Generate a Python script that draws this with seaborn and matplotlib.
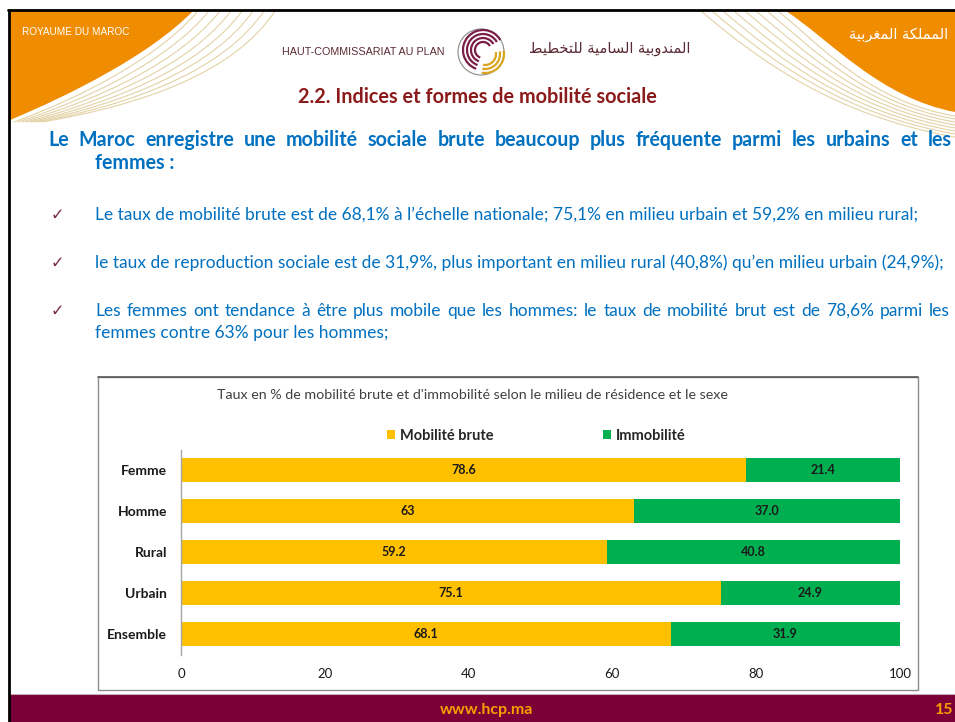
import matplotlib
matplotlib.use("Agg")
import matplotlib.pyplot as plt
import seaborn as sns
import pandas as pd
from matplotlib.patches import Rectangle, PathPatch, Arc, Patch
from matplotlib.path import Path

# ---------------- data ----------------
categories = ["Femme", "Homme", "Rural", "Urbain", "Ensemble"]
mobilite_brute = [78.6, 63, 59.2, 75.1, 68.1]
immobilite = [21.4, 37.0, 40.8, 24.9, 31.9]
mobilite_labels = ["78.6", "63", "59.2", "75.1", "68.1"]
immobilite_labels = ["21.4", "37.0", "40.8", "24.9", "31.9"]
series_names = ["Mobilité brute", "Immobilité"]
x_ticks = [0, 20, 40, 60, 80, 100]

chart_title = "Taux en % de mobilité brute et d'immobilité selon le milieu de résidence et le sexe"
slide_title = "2.2. Indices et formes de mobilité sociale"
heading_1 = "Le Maroc enregistre une mobilité sociale brute beaucoup plus fréquente parmi les urbains et les"
heading_2 = "femmes :"
bullet_1 = "Le taux de mobilité brute est de 68,1% à l’échelle nationale; 75,1% en milieu urbain et 59,2% en milieu rural;"
bullet_2 = "le taux de reproduction sociale est de 31,9%, plus important en milieu rural (40,8%) qu’en milieu urbain (24,9%);"
bullet_3a = "Les femmes ont tendance à être plus mobile que les hommes: le taux de mobilité brut est de 78,6% parmi les"
bullet_3b = "femmes contre 63% pour les hommes;"

# Arabic text, pre-shaped (presentation forms) in visual order
ar_kingdom = "\uFE8D\uFEDF\uFEE4\uFEE4\uFEE0\uFEDC\uFE94 \uFE8D\uFEDF\uFEE4\uFED0\uFEAE\uFE91\uFEF4\uFE94"[::-1]
ar_hcp = ("\uFE8D\uFEDF\uFEE4\uFEE8\uFEAA\uFEED\uFE91\uFEF4\uFE94 "
          "\uFE8D\uFEDF\uFEB4\uFE8E\uFEE3\uFEF4\uFE94 "
          "\uFEDF\uFEE0\uFE98\uFEA8\uFEC4\uFEF4\uFEC2")[::-1]

ORANGE = "#FFC000"
GREEN = "#00B050"
BLUE = "#0070C0"
HEAD_OR = "#F08C00"
MAROON = "#7A0037"

W, H = 955, 722
sns.set_theme(style="white")
plt.rcParams['font.family'] = ['Lato', 'DejaVu Sans']
NARROW = ['Liberation Sans Narrow', 'Lato', 'DejaVu Sans']

fig = plt.figure(figsize=(W / 100, H / 100), dpi=100)
fig.patch.set_facecolor("white")
bg = fig.add_axes([0, 0, 1, 1])
bg.set_xlim(0, W)
bg.set_ylim(H, 0)
bg.axis('off')
renderer = fig.canvas.get_renderer()


def fit(x, y, s, width, ha='left', va='center', size=12, **kw):
    t = bg.text(x, y, s, ha=ha, va=va, fontsize=size, **kw)
    w = t.get_window_extent(renderer=renderer).width
    t.set_fontsize(size * width / w)
    return t


def justify(s, x0, x1, y, size, gap_target=None, **kw):
    words = s.split(" ")
    texts = [bg.text(0, y, w, va='center', ha='left', fontsize=size, **kw) for w in words]
    widths = [t.get_window_extent(renderer=renderer).width for t in texts]
    if gap_target is not None:
        scale = (x1 - x0 - gap_target * (len(words) - 1)) / sum(widths)
        size = size * scale
        for t in texts:
            t.set_fontsize(size)
        widths = [t.get_window_extent(renderer=renderer).width for t in texts]
    gap = (x1 - x0 - sum(widths)) / (len(words) - 1)
    x = x0
    for t, w in zip(texts, widths):
        t.set_x(x)
        x += w + gap
    return size


# ---------------- header decorations ----------------
left_shape = Path([(10, 11), (193, 11), (150, 55), (70, 95), (10, 120), (10, 11)],
                  [Path.MOVETO, Path.LINETO, Path.CURVE4, Path.CURVE4, Path.CURVE4, Path.CLOSEPOLY])
bg.add_patch(PathPatch(left_shape, facecolor=HEAD_OR, edgecolor='none', zorder=1))
for k in range(8):
    p = Path([(198 + k * 11, 11), (158 + k * 11, 58 + k * 2), (80 + k * 9, 98 + k), (14 + k * 4, 122)],
             [Path.MOVETO, Path.CURVE4, Path.CURVE4, Path.CURVE4])
    bg.add_patch(PathPatch(p, facecolor='none', edgecolor='#E4D2A6', lw=0.8, zorder=1))

right_shape = Path([(786, 11), (830, 40), (880, 98), (955, 112), (955, 11), (786, 11)],
                   [Path.MOVETO, Path.CURVE4, Path.CURVE4, Path.CURVE4, Path.LINETO, Path.CLOSEPOLY])
bg.add_patch(PathPatch(right_shape, facecolor=HEAD_OR, edgecolor='none', zorder=1))
for k in range(8):
    p = Path([(778 - k * 11, 11), (820 - k * 9, 45 + k * 2), (870 - k * 5, 102 + k * 2), (955, 116 + k * 3)],
             [Path.MOVETO, Path.CURVE4, Path.CURVE4, Path.CURVE4])
    bg.add_patch(PathPatch(p, facecolor='none', edgecolor='#E4D2A6', lw=0.8, zorder=1))

# frame
bg.plot([8, W], [10, 10], color='black', lw=2, zorder=5)
bg.plot([9, 9], [10, H], color='black', lw=2, zorder=5)

bg.text(22, 32, "ROYAUME DU MAROC", color='white', fontsize=7.2, va='center', family=['Liberation Sans', 'DejaVu Sans'], zorder=3)
bg.text(948, 34, ar_kingdom, color='white', fontsize=10.5, va='center', ha='right', family=['DejaVu Sans'], zorder=3)
fit(282, 52, "HAUT-COMMISSARIAT AU PLAN", 162, color='#5A2A35', family=['Liberation Sans', 'DejaVu Sans'], size=7)
bg.text(690, 49, ar_hcp, color='#5A2A35', fontsize=10.5, va='center', ha='right', family=['DejaVu Sans'])

# logo
cx, cy = 481, 52
bg.add_patch(Arc((cx, cy), 46, 46, theta1=0, theta2=360, color='#8A8A8A', lw=0.8))
for r in [40, 32, 24, 16]:
    bg.add_patch(Arc((cx + 2, cy - 2), r, r, theta1=110, theta2=330, color='#7A1E48', lw=1.6))
for r in [38, 30, 22]:
    bg.add_patch(Arc((cx + 4, cy + 2), r, r, theta1=-10, theta2=100, color='#D9A520', lw=1.6))

fit(477, 97, slide_title, 356, ha='center', color='#8B1A1A', fontweight='bold', size=12)

# ---------------- text body ----------------
hsize = justify(heading_1, 48, 952, 140, 13, gap_target=10, color=BLUE, fontweight='bold')
bg.text(95, 163, heading_2, color=BLUE, fontweight='bold', fontsize=hsize, va='center')

t1 = fit(95, 215, bullet_1, 818, color=BLUE, size=11)
body_size = t1.get_fontsize()
bg.text(95, 263, bullet_2, color=BLUE, fontsize=body_size, va='center')
justify(bullet_3a, 95, 950, 311, body_size, color=BLUE)
bg.text(95, 333, bullet_3b, color=BLUE, fontsize=body_size, va='center')
for yy in (215, 263, 311):
    bg.text(51, yy, "✓", color='#7B2346', fontsize=11.5, va='center', family=['DejaVu Sans'])

# ---------------- chart box ----------------
bg.add_patch(Rectangle((98, 377), 820, 313, facecolor='white', edgecolor='#8C8C8C', lw=1, zorder=2))
bg.plot([98, 918], [377, 377], color='#595959', lw=1.2, zorder=3)
fit(217, 395, chart_title, 512, color='#404040', family=NARROW, size=9, zorder=4)

# ---------------- footer ----------------
bg.add_patch(Rectangle((10, 695), W - 10, H - 695, facecolor=MAROON, edgecolor='none', zorder=2))
bg.plot([10, W], [694, 694], color='#C9A9B5', lw=0.8, zorder=2)
bg.text(487, 710, "www.hcp.ma", color='#F5A000', fontsize=11.5, fontweight='bold', ha='center', va='center', zorder=3)
bg.text(944, 710, "15", color='#F5A000', fontsize=11.5, fontweight='bold', ha='center', va='center', zorder=3)

# ---------------- chart ----------------
df = pd.DataFrame({"categorie": categories, "mob": mobilite_brute, "imm": immobilite})
df["total"] = df["mob"] + df["imm"]

ax = fig.add_axes([181 / W, (H - 654.5) / H, (900 - 181) / W, 205 / H])
ax.set_zorder(5)
ax.patch.set_alpha(0)
sns.barplot(data=df, y="categorie", x="total", orient='h', color=GREEN, saturation=1,
            width=0.58, ax=ax, edgecolor='none', order=categories)
sns.barplot(data=df, y="categorie", x="mob", orient='h', color=ORANGE, saturation=1,
            width=0.58, ax=ax, edgecolor='none', order=categories)

for i, (m, im, ml, il) in enumerate(zip(mobilite_brute, immobilite, mobilite_labels, immobilite_labels)):
    ax.text(m / 2, i, ml, ha='center', va='center', fontsize=9, fontweight='bold', family=NARROW, color='#1A1A1A')
    ax.text(m + im / 2, i, il, ha='center', va='center', fontsize=9, fontweight='bold', family=NARROW, color='#1A1A1A')

ax.set_xlim(0, 100)
ax.set_xticks(x_ticks)
ax.set_xticklabels([str(v) for v in x_ticks])
ax.set_xlabel("")
ax.set_ylabel("")
for s in ("top", "right", "bottom"):
    ax.spines[s].set_visible(False)
ax.spines["left"].set_color('#A6A6A6')
ax.spines["left"].set_linewidth(1)
ax.tick_params(axis='x', length=0, pad=10, labelsize=9.5, labelcolor='#1A1A1A')
ax.tick_params(axis='y', length=0, pad=10, labelsize=10, labelcolor='#1A1A1A')
for lab in ax.get_yticklabels():
    lab.set_fontweight('bold')
    lab.set_family(NARROW)
for lab in ax.get_xticklabels():
    lab.set_family(NARROW)

handles = [Patch(facecolor=ORANGE, edgecolor='none'), Patch(facecolor=GREEN, edgecolor='none')]
leg = ax.legend(handles, series_names, loc='center', bbox_to_anchor=(536 / W, (H - 436) / H),
                bbox_transform=fig.transFigure, ncol=2, frameon=False, handlelength=0.6,
                handleheight=0.6, handletextpad=0.3, columnspacing=7.5,
                prop={'family': NARROW, 'weight': 'bold', 'size': 10.5})

fig.savefig("out.png", dpi=100)
